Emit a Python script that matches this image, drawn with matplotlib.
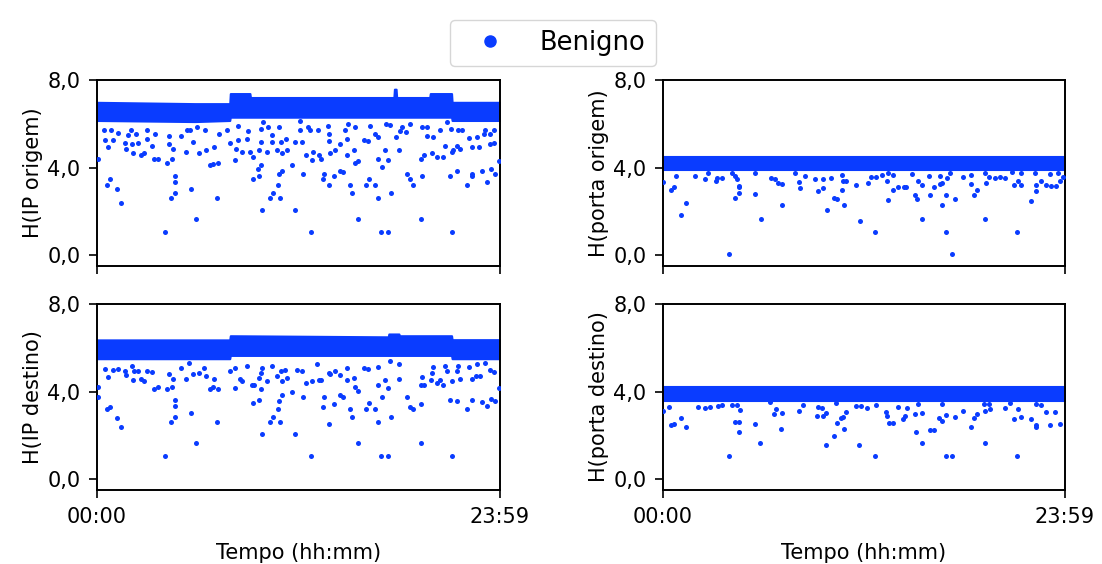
import matplotlib
matplotlib.use("Agg")
import matplotlib.pyplot as plt
from matplotlib.lines import Line2D
import numpy as np

BLUE = "#0A3CFF"

# time in minutes (0 = 00:00, 1439 = 23:59)
x_ticks = [0, 1439]
x_ticklabels = ["00:00", "23:59"]
y_ticks = [0.0, 4.0, 8.0]
y_ticklabels = ["0,0", "4,0", "8,0"]

# ---------------- H(IP origem) ----------------
ipo_band_t = [0, 350, 474, 476, 546, 548, 1060, 1062, 1068, 1070, 1188, 1190, 1266, 1268, 1439]
ipo_band_lo = [6.15, 6.1, 6.15, 6.3, 6.3, 6.3, 6.3, 6.3, 6.3, 6.3, 6.3, 6.3, 6.3, 6.15, 6.15]
ipo_band_hi = [6.98, 6.92, 6.92, 7.38, 7.38, 7.2, 7.2, 7.58, 7.58, 7.2, 7.2, 7.38, 7.38, 6.98, 6.98]
ipo_x = [243, 763, 1014, 1038, 1268, 353, 931, 1157, 590, 708, 87, 264, 430, 618, 653, 1003, 1050, 280,
         627, 912, 70, 336, 36, 46, 280, 280, 645, 828, 904, 959, 994, 1127, 1321, 558, 580, 808, 845, 973,
         1117, 1160, 1259, 1285, 1339, 1339, 1391, 1374, 1407, 1422, 649, 662, 736, 810, 868, 877, 1108,
         1017, 696, 584, 574, 431, 405, 415, 251, 4, 1434, 494, 557, 747, 768, 800, 921, 932, 1002, 1038,
         1158, 1169, 1213, 1234, 1268, 203, 219, 156, 130, 169, 270, 269, 319, 364, 390, 416, 496, 518, 546,
         578, 607, 641, 662, 677, 771, 793, 833, 850, 892, 919, 1028, 1078, 1195, 1272, 1296, 1338, 1364,
         1405, 40, 102, 195, 257, 342, 27, 56, 100, 125, 148, 177, 301, 475, 502, 534, 584, 624, 656, 675,
         707, 731, 829, 866, 891, 953, 966, 994, 1003, 1067, 1082, 1179, 1199, 1242, 1286, 1329, 1358, 1382,
         1403, 1417, 26, 51, 76, 110, 121, 138, 177, 207, 256, 320, 332, 358, 384, 436, 463, 505, 540, 585,
         594, 609, 625, 649, 726, 726, 754, 760, 788, 825, 827, 885, 897, 923, 975, 1031, 1046, 1088, 1103,
         1117, 1160, 1177, 1225, 1251, 1264, 1290, 1305, 1385, 1418]
ipo_y = [1.05, 1.05, 1.05, 1.05, 1.05, 1.64, 1.64, 1.64, 2.05, 2.05, 2.36, 2.63, 2.63, 2.63, 2.63, 2.63, 2.85,
         2.85, 2.85, 2.85, 3.04, 3.04, 3.19, 3.48, 3.36, 3.61, 3.19, 3.19, 3.19, 3.19, 3.19, 3.19, 3.19, 3.49,
         3.61, 3.49, 3.61, 3.49, 3.49, 3.61, 3.61, 3.84, 3.61, 3.69, 3.36, 3.84, 3.93, 3.72, 3.72, 3.84, 3.72,
         3.72, 3.84, 3.79, 3.72, 4.04, 4.11, 4.11, 3.93, 4.20, 4.11, 4.17, 4.20, 4.40, 4.28, 4.35, 4.47, 4.56,
         4.35, 4.40, 4.20, 4.28, 4.40, 4.35, 4.40, 4.55, 4.47, 4.47, 4.71, 4.40, 4.40, 4.55, 4.67, 4.67, 4.86,
         4.40, 4.71, 4.67, 4.78, 4.93, 4.86, 4.71, 4.71, 4.78, 4.71, 4.78, 4.67, 4.82, 4.71, 4.56, 4.67, 4.78,
         4.59, 4.82, 4.82, 4.78, 4.67, 4.78, 4.86, 4.93, 4.93, 5.09, 4.93, 4.86, 4.97, 5.09, 5.18, 5.24, 5.24,
         5.12, 5.09, 5.12, 5.29, 5.44, 5.14, 5.24, 5.30, 5.17, 5.15, 5.15, 5.29, 5.15, 5.18, 5.21, 5.09, 5.30,
         5.26, 5.21, 5.54, 5.39, 5.39, 5.68, 5.45, 5.39, 4.97, 4.97, 5.33, 5.39, 5.54, 5.54, 5.12, 5.70, 5.70,
         5.57, 5.47, 5.70, 5.54, 5.70, 5.54, 5.42, 5.70, 5.70, 5.85, 5.72, 5.54, 5.72, 5.92, 5.65, 5.77, 6.07,
         5.85, 5.47, 5.85, 6.12, 5.70, 5.85, 5.70, 5.70, 5.92, 5.54, 5.70, 5.99, 5.85, 5.88, 5.99, 5.95, 5.85,
         5.62, 5.99, 5.85, 5.85, 5.70, 6.07, 5.77, 5.72, 5.70, 5.70, 5.70]

# ---------------- H(porta origem) ----------------
po_band_t = [0, 1439]
po_band_lo = [3.9, 3.9]
po_band_hi = [4.5, 4.5]
po_x = [236, 1036, 759, 1012, 1266, 350, 927, 1154, 704, 586, 64, 81, 259, 425, 649, 1000, 1047, 273, 329,
        30, 39, 273, 271, 490, 554, 571, 612, 623, 641, 692, 804, 823, 841, 864, 871, 902, 908, 927, 956, 971,
        991, 1000, 1014, 1114, 1125, 1104, 1155, 1255, 1282, 1318, 1335, 1335, 1354, 1372, 1389, 1405, 1421,
        1432, 0, 47, 115, 150, 188, 193, 212, 259, 265, 387, 400, 410, 427, 487, 508, 544, 571, 600, 643, 656,
        733, 743, 764, 783, 802, 825, 914, 953, 993, 1015, 1029, 1075, 1101, 1167, 1188, 1206, 1224, 1269,
        1280, 1385, 1414, 162, 248, 329, 472, 639, 806, 890, 1152, 1248, 1331]
po_y = [0.06, 0.06, 1.05, 1.05, 1.05, 1.64, 1.64, 1.64, 1.55, 2.05, 1.81, 2.36, 2.63, 2.30, 2.30, 2.30, 2.56,
        2.85, 2.79, 2.98, 3.12, 3.16, 3.10, 3.06, 2.95, 3.06, 2.63, 2.56, 2.98, 3.18, 2.53, 2.98, 3.12, 3.12,
        3.10, 2.76, 2.56, 3.18, 2.76, 3.12, 3.24, 3.28, 2.74, 2.76, 2.98, 3.27, 3.28, 3.22, 3.21, 2.45, 3.21,
        2.95, 3.40, 3.21, 3.16, 3.15, 3.39, 3.55, 3.36, 3.60, 3.61, 3.46, 3.39, 3.54, 3.54, 3.61, 3.48, 3.51,
        3.46, 3.31, 3.27, 3.36, 3.61, 3.46, 3.46, 3.51, 3.39, 3.40, 3.28, 3.55, 3.55, 3.65, 3.39, 3.66, 3.39,
        3.61, 3.61, 3.51, 3.74, 3.55, 3.66, 3.55, 3.51, 3.55, 3.51, 3.39, 3.77, 3.69, 3.77, 3.74, 3.74, 3.77,
        3.74, 3.66, 3.77, 3.70, 3.77, 3.81, 3.74]

# ---------------- H(IP destino) ----------------
ipd_band_t = [0, 474, 476, 1040, 1042, 1078, 1080, 1266, 1268, 1439]
ipd_band_lo = [5.5, 5.5, 5.65, 5.65, 5.65, 5.65, 5.65, 5.65, 5.5, 5.5]
ipd_band_hi = [6.36, 6.36, 6.55, 6.5, 6.63, 6.63, 6.55, 6.55, 6.37, 6.37]
ipd_x = [243, 763, 1014, 1038, 1268, 353, 931, 1157, 590, 708, 87, 70, 264, 430, 618, 653, 1003, 827, 627,
         280, 912, 1050, 336, 36, 46, 280, 280, 645, 808, 904, 959, 994, 1127, 1321, 1117, 558, 580, 845, 973,
         1158, 1259, 1285, 1339, 1374, 1391, 1407, 1422, 649, 662, 736, 810, 868, 877, 1108, 1017, 696, 584,
         2, 4, 1434, 494, 431, 402, 414, 251, 269, 203, 219, 552, 559, 747, 768, 800, 921, 932, 1002, 1038,
         1158, 1169, 1213, 1234, 1268, 156, 130, 169, 272, 319, 390, 416, 518, 578, 607, 641, 659, 677, 793,
         833, 850, 892, 919, 1028, 1078, 1195, 1296, 1338, 1355, 1367, 1417, 1248, 1284, 1225, 1191, 1159, 38,
         102, 133, 195, 257, 342, 364, 27, 56, 75, 100, 125, 145, 177, 300, 327, 382, 475, 491, 511, 534, 584,
         588, 624, 656, 671, 713, 731, 784, 829, 868, 891, 954, 966, 1003, 1046, 1079, 1201, 1242, 1288, 1329,
         1358, 1405, 1385]
ipd_y = [1.05, 1.05, 1.05, 1.05, 1.05, 1.63, 1.63, 1.63, 2.05, 2.05, 2.36, 2.79, 2.62, 2.62, 2.62, 2.62, 2.62,
         2.53, 2.83, 2.85, 2.85, 2.85, 3.03, 3.21, 3.30, 3.36, 3.61, 3.21, 3.30, 3.21, 3.21, 3.21, 3.21, 3.21,
         3.31, 3.49, 3.61, 3.45, 3.49, 3.45, 3.61, 3.55, 3.61, 3.54, 3.36, 3.68, 3.57, 3.57, 3.83, 3.74, 3.74,
         3.83, 3.77, 3.74, 3.77, 3.99, 4.11, 4.22, 3.74, 4.17, 4.14, 4.10, 4.11, 4.19, 4.10, 4.19, 4.13, 4.22,
         4.31, 4.31, 4.37, 4.49, 4.53, 4.22, 4.04, 4.32, 4.14, 4.32, 4.32, 4.37, 4.31, 4.50, 4.55, 4.52, 4.49,
         4.59, 4.58, 4.70, 4.56, 4.49, 4.61, 4.49, 4.70, 4.50, 4.61, 4.52, 4.82, 4.94, 4.52, 4.61, 4.53, 4.55,
         4.85, 4.59, 4.55, 4.73, 4.73, 4.88, 4.93, 4.93, 4.52, 4.52, 4.67, 4.67, 4.74, 4.94, 4.91, 4.82, 4.82,
         4.85, 5.05, 5.00, 5.05, 4.94, 5.15, 4.94, 4.94, 5.09, 5.30, 5.09, 4.94, 5.09, 4.55, 5.15, 4.85, 5.09,
         5.15, 4.94, 5.00, 5.00, 4.94, 5.24, 4.85, 4.74, 5.06, 5.09, 5.05, 5.12, 5.39, 5.24, 5.12, 5.15, 5.15,
         5.12, 5.24, 4.97, 5.30]

# ---------------- H(porta destino) ----------------
pd_band_t = [0, 1439]
pd_band_lo = [3.55, 3.55]
pd_band_hi = [4.2, 4.2]
pd_x = [236, 758, 1012, 1036, 1266, 348, 926, 1152, 585, 703, 612, 81, 424, 648, 273, 907, 955, 970, 623, 330,
        27, 39, 63, 258, 272, 808, 823, 1104, 1334, 1335, 1387, 1420, 1000, 988, 860, 867, 803, 638, 643, 1114,
        1124, 1255, 1280, 1318, 1013, 1047, 901, 926, 396, 427, 552, 574, 582, 655, 799, 1074, 1371, 1403,
        274, 403, 488, 1152, 1172, 1269, 21, 125, 149, 168, 196, 211, 554, 569, 692, 707, 731, 762, 840, 872,
        1225, 1242, 248, 265, 501, 619, 384, 914, 997, 1150, 1168, 1335, 1352, 0]
pd_y = [1.05, 1.05, 1.05, 1.05, 1.05, 1.63, 1.63, 1.63, 1.55, 1.55, 1.96, 2.36, 2.29, 2.29, 2.17, 2.17, 2.24,
        2.26, 2.54, 2.53, 2.45, 2.51, 2.79, 2.62, 2.62, 2.54, 2.54, 2.39, 2.38, 2.49, 2.49, 2.53, 2.64, 2.77,
        2.73, 2.86, 2.88, 2.77, 2.82, 2.77, 2.97, 2.73, 2.85, 2.76, 2.92, 2.83, 2.98, 3.04, 2.97, 3.00, 2.88,
        2.89, 3.04, 3.07, 3.06, 3.09, 3.07, 3.07, 3.15, 3.21, 3.13, 3.12, 3.22, 3.18, 3.31, 3.30, 3.24, 3.30,
        3.36, 3.39, 3.28, 3.27, 3.33, 3.34, 3.27, 3.40, 3.28, 3.27, 3.27, 3.49, 3.40, 3.39, 3.39, 3.49, 3.51,
        3.42, 3.45, 3.43, 3.43, 3.43, 3.39, 3.13]

panels = [
    ("H(IP origem)", ipo_band_t, ipo_band_lo, ipo_band_hi, ipo_x, ipo_y),
    ("H(porta origem)", po_band_t, po_band_lo, po_band_hi, po_x, po_y),
    ("H(IP destino)", ipd_band_t, ipd_band_lo, ipd_band_hi, ipd_x, ipd_y),
    ("H(porta destino)", pd_band_t, pd_band_lo, pd_band_hi, pd_x, pd_y),
]

W, H = 1102, 564
fig = plt.figure(figsize=(W / 100, H / 100), dpi=100)

positions = [
    (97, 80, 500, 266),
    (663, 80, 1065, 266),
    (97, 304, 500, 490),
    (663, 304, 1065, 490),
]

FS = 15
for i, ((label, bt, blo, bhi, px, py), (x0, y0, x1, y1)) in enumerate(zip(panels, positions)):
    ax = fig.add_axes([x0 / W, 1 - y1 / H, (x1 - x0) / W, (y1 - y0) / H])
    ax.fill_between(bt, blo, bhi, color=BLUE, linewidth=1.5, edgecolor=BLUE, zorder=2)
    ax.scatter(px, py, s=13, color=BLUE, linewidths=0, zorder=3)
    ax.set_xlim(0, 1439)
    ax.set_ylim(-0.5, 8.0)
    ax.set_yticks(y_ticks)
    ax.set_yticklabels(y_ticklabels, fontsize=FS)
    ax.set_xticks(x_ticks)
    if i >= 2:
        ax.set_xticklabels(x_ticklabels, fontsize=FS)
        ax.set_xlabel("Tempo (hh:mm)", fontsize=FS, labelpad=12)
    else:
        ax.set_xticklabels([])
    ax.tick_params(axis="both", length=6, width=1.2, pad=6)
    for sp in ax.spines.values():
        sp.set_linewidth(1.4)
    ax.set_ylabel(label, fontsize=FS, labelpad=3)

handle = Line2D([], [], marker="o", linestyle="none", color=BLUE, markersize=8)
fig.legend([handle], ["Benigno"], loc="upper center", bbox_to_anchor=(0.5018, 0.988),
           fontsize=18.5, handletextpad=0.8, borderpad=0.4, handlelength=2.3)

fig.savefig("out.png", dpi=100)
